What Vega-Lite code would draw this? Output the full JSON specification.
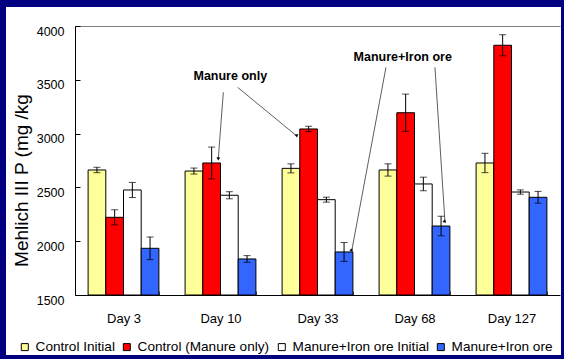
{
  "$schema": "https://vega.github.io/schema/vega-lite/v6.json",
  "width": 555,
  "height": 348,
  "autosize": {"type": "none"},
  "padding": {"left": 6, "top": 7, "right": 3, "bottom": 4},
  "background": "#000080",
  "view": {"fill": "white", "stroke": null},
  "datasets": {
    "bars": [
      {"day": "Day 3", "series": "Control Initial", "value": 2662, "lo": 2637, "hi": 2687},
      {"day": "Day 3", "series": "Control (Manure only)", "value": 2222, "lo": 2152, "hi": 2292},
      {"day": "Day 3", "series": "Manure+Iron ore Initial", "value": 2476, "lo": 2406, "hi": 2546},
      {"day": "Day 3", "series": "Manure+Iron ore", "value": 1934, "lo": 1829, "hi": 2039},
      {"day": "Day 10", "series": "Control Initial", "value": 2652, "lo": 2624, "hi": 2680},
      {"day": "Day 10", "series": "Control (Manure only)", "value": 2727, "lo": 2579, "hi": 2875},
      {"day": "Day 10", "series": "Manure+Iron ore Initial", "value": 2427, "lo": 2394, "hi": 2460},
      {"day": "Day 10", "series": "Manure+Iron ore", "value": 1835, "lo": 1804, "hi": 1866},
      {"day": "Day 33", "series": "Control Initial", "value": 2677, "lo": 2635, "hi": 2719},
      {"day": "Day 33", "series": "Control (Manure only)", "value": 3043, "lo": 3018, "hi": 3068},
      {"day": "Day 33", "series": "Manure+Iron ore Initial", "value": 2386, "lo": 2363, "hi": 2409},
      {"day": "Day 33", "series": "Manure+Iron ore", "value": 1900, "lo": 1812, "hi": 1988},
      {"day": "Day 68", "series": "Control Initial", "value": 2662, "lo": 2605, "hi": 2719},
      {"day": "Day 68", "series": "Control (Manure only)", "value": 3194, "lo": 3021, "hi": 3367},
      {"day": "Day 68", "series": "Manure+Iron ore Initial", "value": 2532, "lo": 2469, "hi": 2595},
      {"day": "Day 68", "series": "Manure+Iron ore", "value": 2141, "lo": 2050, "hi": 2232},
      {"day": "Day 127", "series": "Control Initial", "value": 2727, "lo": 2637, "hi": 2817},
      {"day": "Day 127", "series": "Control (Manure only)", "value": 3821, "lo": 3723, "hi": 3919},
      {"day": "Day 127", "series": "Manure+Iron ore Initial", "value": 2457, "lo": 2437, "hi": 2477},
      {"day": "Day 127", "series": "Manure+Iron ore", "value": 2408, "lo": 2353, "hi": 2463}
    ],
    "notes": [
      {"pos": 1.601, "val": 3495, "label": "Manure only"},
      {"pos": 3.379, "val": 3677, "label": "Manure+Iron ore"}
    ],
    "arrows": [
      {"id": "A1", "pos0": 1.529, "val0": 3384, "pos1": 1.477, "val1": 2765},
      {"id": "A2", "pos0": 1.677, "val0": 3430, "pos1": 2.286, "val1": 2978},
      {"id": "B1", "pos0": 3.206, "val0": 3616, "pos1": 2.853, "val1": 1912},
      {"id": "B2", "pos0": 3.711, "val0": 3616, "pos1": 3.814, "val1": 2182}
    ]
  },
  "layer": [
    {
      "data": {"name": "bars"},
      "encoding": {
        "x": {
          "field": "day", "type": "nominal",
          "sort": ["Day 3", "Day 10", "Day 33", "Day 68", "Day 127"],
          "scale": {"range": [69, 554], "paddingInner": 0.27, "paddingOuter": 0.135},
          "axis": {
            "orient": "bottom", "offset": -60, "title": null, "labelAngle": 0,
            "domainColor": "black", "domainWidth": 1,
            "tickBand": "extent", "tickSize": -4, "tickColor": "#555",
            "labelFontSize": 13, "labelPadding": 21, "labelColor": "black"
          }
        },
        "xOffset": {
          "field": "series", "type": "nominal",
          "sort": ["Control Initial", "Control (Manure only)", "Manure+Iron ore Initial", "Manure+Iron ore"],
          "scale": {"paddingInner": 0, "paddingOuter": 0}
        }
      },
      "layer": [
        {
          "mark": {"type": "bar", "stroke": "black", "strokeWidth": 1},
          "encoding": {
            "y": {
              "field": "value", "type": "quantitative",
              "title": "Mehlich III P (mg /kg",
              "scale": {"domain": [1500, 4000], "range": [288, 19], "nice": false, "zero": false},
              "axis": {
                "offset": -69, "values": [1500, 2000, 2500, 3000, 3500, 4000], "format": "d",
                "grid": false, "tickSize": -5, "tickColor": "black",
                "domainColor": "black", "labelFontSize": 12.5, "labelPadding": 16,
                "labelOffset": 5, "labelFlush": false, "labelColor": "black",
                "titleFontSize": 19, "titleFontWeight": "normal", "titleColor": "black",
                "titleX": -44, "titleY": 173, "titleAngle": -90,
                "titleBaseline": "bottom", "titleAlign": "center"
              }
            },
            "y2": {"datum": 1500},
            "color": {
              "field": "series", "type": "nominal",
              "scale": {
                "domain": ["Control Initial", "Control (Manure only)", "Manure+Iron ore Initial", "Manure+Iron ore"],
                "range": ["#FFFF99", "#FF0000", "#FFFFFF", "#3366FF"]
              },
              "legend": {
                "orient": "none", "legendX": 12, "legendY": 333,
                "direction": "horizontal", "title": null,
                "symbolType": "square", "symbolSize": 49,
                "symbolStrokeColor": "black", "symbolStrokeWidth": 1, "symbolOpacity": 1,
                "labelFontSize": 13.6, "labelOffset": 4, "columnPadding": 5,
                "padding": 0, "labelColor": "black"
              }
            }
          }
        },
        {
          "mark": {"type": "rule", "color": "black", "strokeWidth": 1},
          "encoding": {
            "y": {"field": "lo", "type": "quantitative"},
            "y2": {"field": "hi"}
          }
        },
        {
          "mark": {"type": "tick", "color": "black", "size": 7, "thickness": 1},
          "encoding": {
            "y": {"field": "lo", "type": "quantitative"}
          }
        },
        {
          "mark": {"type": "tick", "color": "black", "size": 7, "thickness": 1},
          "encoding": {
            "y": {"field": "hi", "type": "quantitative"}
          }
        }
      ]
    },
    {
      "layer": [
        {
          "data": {"name": "arrows"},
          "mark": {"type": "rule", "color": "#333", "strokeWidth": 0.8},
          "encoding": {
            "x": {
              "field": "pos0", "type": "quantitative",
              "scale": {"domain": [0, 5], "range": [69, 554], "nice": false, "zero": false},
              "axis": {"orient": "top", "offset": -19, "domainColor": "#808080", "domainWidth": 1, "labels": false, "ticks": false, "grid": false, "title": null}
            },
            "x2": {"field": "pos1"},
            "y": {"field": "val0", "type": "quantitative"},
            "y2": {"field": "val1"}
          }
        },
        {
          "data": {"name": "arrows"},
          "mark": {"type": "point", "shape": "triangle-down", "filled": true, "color": "black", "size": 14, "opacity": 1},
          "encoding": {
            "x": {"field": "pos1", "type": "quantitative"},
            "y": {"field": "val1", "type": "quantitative"},
            "angle": {
              "field": "id", "type": "ordinal",
              "scale": {"domain": ["A1", "A2", "B1", "B2"], "range": [4, -50, 10, -4]}
            }
          }
        },
        {
          "data": {"name": "notes"},
          "mark": {"type": "text", "fontSize": 12.5, "fontWeight": "bold", "align": "center", "baseline": "alphabetic", "color": "black"},
          "encoding": {
            "x": {"field": "pos", "type": "quantitative"},
            "y": {"field": "val", "type": "quantitative"},
            "text": {"field": "label"}
          }
        }
      ]
    }
  ],
  "resolve": {"scale": {"x": "independent"}, "axis": {"x": "independent"}},
  "config": {
    "font": "Liberation Sans",
    "axis": {"labelFont": "Liberation Sans", "titleFont": "Liberation Sans"},
    "legend": {"labelFont": "Liberation Sans"}
  }
}
